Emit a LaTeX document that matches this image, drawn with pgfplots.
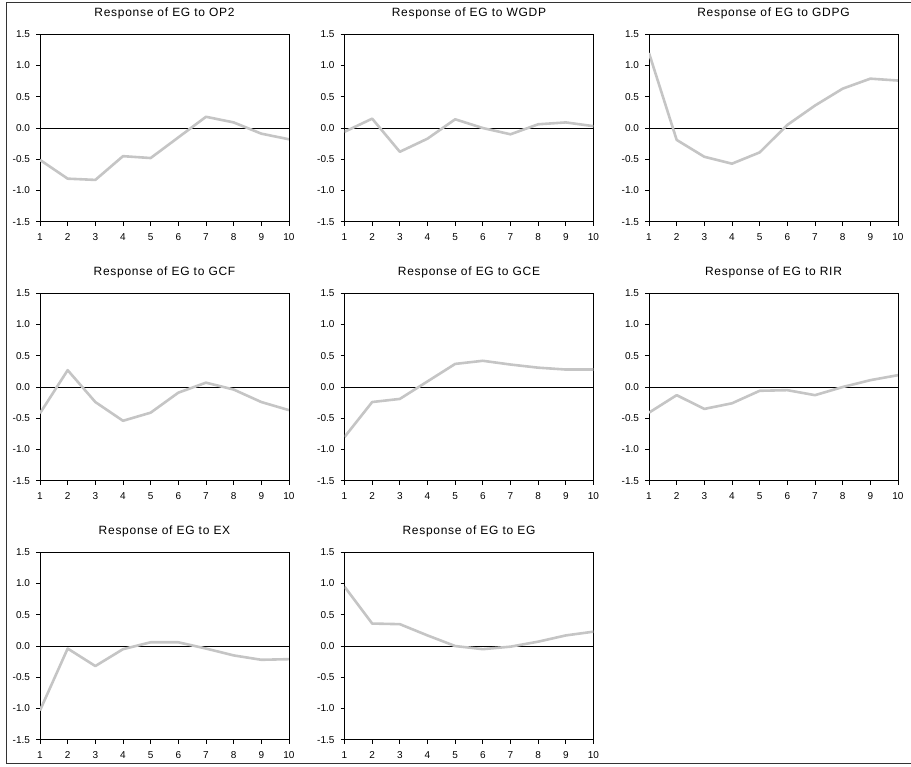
\documentclass[border=0pt]{standalone}
\usepackage{fontspec}
\setmainfont{Liberation Sans}
\newfontfamily\titlefont[LetterSpace=6]{Liberation Sans}
\newfontfamily\tickfont{Liberation Sans}
\usepackage{pgfplots}
\pgfplotsset{compat=1.18}
\definecolor{irfgray}{RGB}{197,197,197}
\pgfplotsset{
  eviews/.style={
    scale only axis,
    width=249pt, height=187.5pt,
    xmin=1, xmax=10, ymin=-1.5, ymax=1.5,
    xtick={1,...,10},
    ytick={-1.5,-1.0,-0.5,0.0,0.5,1.0,1.5},
    tick align=outside,
    xtick pos=bottom, ytick pos=left,
    major tick length=4pt,
    axis line style={line width=0.9pt, black},
    tick style={line width=0.7pt, black},
    /pgf/number format/assume math mode=true,
    yticklabel style={/pgf/number format/fixed, /pgf/number format/fixed zerofill, /pgf/number format/precision=1, font=\tickfont\fontsize{10}{12}\selectfont, xshift=-2.5pt},
    xticklabel style={font=\tickfont\fontsize{10}{12}\selectfont, yshift=-4.5pt},
    title style={at={(0.5,1)}, anchor=base, yshift=12pt, font=\titlefont\fontsize{12}{14}\selectfont},
  },
  zeroline/.style={black, line width=0.8pt, forget plot},
  irf/.style={irfgray, line width=2.6pt, line join=round},
}
\begin{document}
\begin{tikzpicture}
\useasboundingbox (0,0) rectangle (911pt,767pt);
\draw[line width=1pt, black!80] (911pt,764pt) -- (6pt,764pt) -- (6pt,3pt) -- (911pt,3pt);
% Row 1
\begin{axis}[eviews, at={(40pt,545.2pt)}, anchor=south west, title={Response of EG to OP2}]
\addplot[zeroline] coordinates {(1,0) (10,0)};
\addplot[irf] coordinates {(1,-0.51) (2,-0.81) (3,-0.83) (4,-0.45) (5,-0.48) (6,-0.15) (7,0.18) (8,0.09) (9,-0.09) (10,-0.18)};
\end{axis}
\begin{axis}[eviews, at={(344.5pt,545.2pt)}, anchor=south west, title={Response of EG to WGDP}]
\addplot[zeroline] coordinates {(1,0) (10,0)};
\addplot[irf] coordinates {(1,-0.06) (2,0.15) (3,-0.38) (4,-0.17) (5,0.14) (6,0.0) (7,-0.10) (8,0.06) (9,0.09) (10,0.03)};
\end{axis}
\begin{axis}[eviews, at={(649pt,545.2pt)}, anchor=south west, title={Response of EG to GDPG}]
\addplot[zeroline] coordinates {(1,0) (10,0)};
\addplot[irf] coordinates {(1,1.20) (2,-0.19) (3,-0.46) (4,-0.57) (5,-0.39) (6,0.05) (7,0.36) (8,0.63) (9,0.79) (10,0.76)};
\end{axis}
% Row 2
\begin{axis}[eviews, at={(40pt,286.2pt)}, anchor=south west, title={Response of EG to GCF}]
\addplot[zeroline] coordinates {(1,0) (10,0)};
\addplot[irf] coordinates {(1,-0.42) (2,0.27) (3,-0.24) (4,-0.54) (5,-0.41) (6,-0.09) (7,0.07) (8,-0.04) (9,-0.24) (10,-0.37)};
\end{axis}
\begin{axis}[eviews, at={(344.5pt,286.2pt)}, anchor=south west, title={Response of EG to GCE}]
\addplot[zeroline] coordinates {(1,0) (10,0)};
\addplot[irf] coordinates {(1,-0.80) (2,-0.24) (3,-0.19) (4,0.09) (5,0.37) (6,0.42) (7,0.36) (8,0.31) (9,0.28) (10,0.28)};
\end{axis}
\begin{axis}[eviews, at={(649pt,286.2pt)}, anchor=south west, title={Response of EG to RIR}]
\addplot[zeroline] coordinates {(1,0) (10,0)};
\addplot[irf] coordinates {(1,-0.41) (2,-0.13) (3,-0.35) (4,-0.26) (5,-0.06) (6,-0.05) (7,-0.13) (8,0.0) (9,0.11) (10,0.19)};
\end{axis}
% Row 3
\begin{axis}[eviews, at={(40pt,27.2pt)}, anchor=south west, title={Response of EG to EX}]
\addplot[zeroline] coordinates {(1,0) (10,0)};
\addplot[irf] coordinates {(1,-1.03) (2,-0.04) (3,-0.32) (4,-0.05) (5,0.06) (6,0.06) (7,-0.04) (8,-0.15) (9,-0.22) (10,-0.21)};
\end{axis}
\begin{axis}[eviews, at={(344.5pt,27.2pt)}, anchor=south west, title={Response of EG to EG}]
\addplot[zeroline] coordinates {(1,0) (10,0)};
\addplot[irf] coordinates {(1,0.95) (2,0.36) (3,0.35) (4,0.17) (5,0.0) (6,-0.05) (7,-0.01) (8,0.07) (9,0.17) (10,0.23)};
\end{axis}
\end{tikzpicture}
\end{document}
